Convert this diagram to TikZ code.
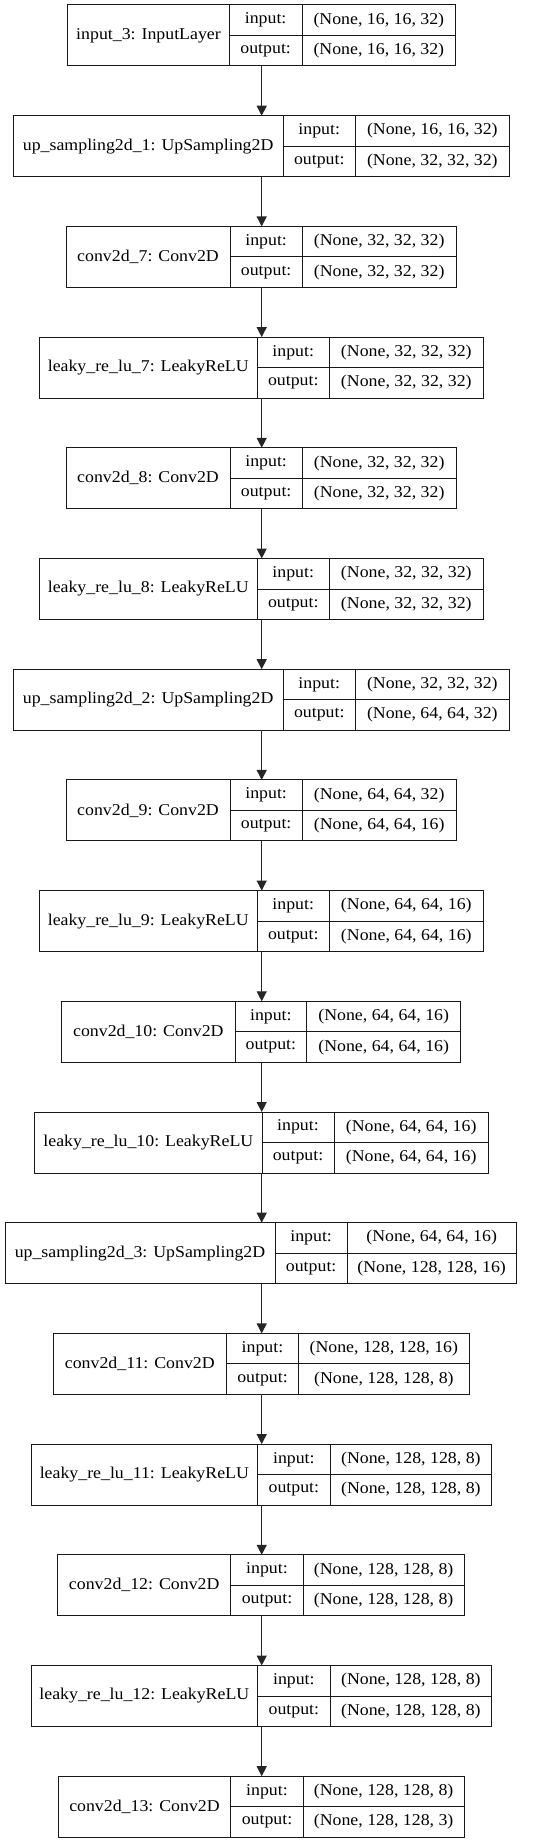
\documentclass[tikz,border=0pt]{standalone}
\usepackage{fontspec}
\setmainfont{Liberation Serif}[FakeStretch=1.08]
\usetikzlibrary{arrows.meta}
\tikzset{
  cell/.style={draw=black!90, line width=1pt, inner sep=0pt, outer sep=0pt, anchor=north west, font=\fontsize{16.5}{20}\selectfont},
  arr/.style={-{Triangle[length=10pt,width=10pt]}, line width=1.3pt, draw=black!85}
}
\newcommand\lay[9]{%
  \pgfmathsetmacro\wa{#4-#3}\pgfmathsetmacro\wb{#5-#4}\pgfmathsetmacro\wc{#6-#5}\pgfmathsetmacro\lmid{#2+30.5}%
  \node[cell, minimum width=\wa pt, minimum height=61pt] (#1) at (#3,#2) {#7};
  \node[cell, minimum width=\wb pt, minimum height=30.5pt] (#1i) at (#4,#2) {input:};
  \node[cell, minimum width=\wb pt, minimum height=30.5pt] (#1o) at (#4,\lmid) {output:};
  \node[cell, minimum width=\wc pt, minimum height=30.5pt] (#1iv) at (#5,#2) {#8};
  \node[cell, minimum width=\wc pt, minimum height=30.5pt] (#1ov) at (#5,\lmid) {#9};
}
\begin{document}
\begin{tikzpicture}[x=1pt,y=-1pt]
\useasboundingbox (0,0) rectangle (540,1844);
\lay{a}{5}{67.7}{229.3}{302}{455.7}{input\_3: InputLayer}{(None, 16, 16, 32)}{(None, 16, 16, 32)}
\lay{b}{115.7}{13.3}{283}{355.5}{509.2}{up\_sampling2d\_1: UpSampling2D}{(None, 16, 16, 32)}{(None, 32, 32, 32)}
\lay{c}{226.4}{66}{230}{302.3}{456}{conv2d\_7: Conv2D}{(None, 32, 32, 32)}{(None, 32, 32, 32)}
\lay{d}{337.1}{39.3}{257.2}{329.3}{483.3}{leaky\_re\_lu\_7: LeakyReLU}{(None, 32, 32, 32)}{(None, 32, 32, 32)}
\lay{e}{447.8}{66}{230}{302.3}{456}{conv2d\_8: Conv2D}{(None, 32, 32, 32)}{(None, 32, 32, 32)}
\lay{f}{558.5}{39.3}{257.2}{329.3}{483.3}{leaky\_re\_lu\_8: LeakyReLU}{(None, 32, 32, 32)}{(None, 32, 32, 32)}
\lay{g}{669.2}{13.3}{283}{355.5}{509.2}{up\_sampling2d\_2: UpSampling2D}{(None, 32, 32, 32)}{(None, 64, 64, 32)}
\lay{h}{779.9}{66}{230}{302.3}{456}{conv2d\_9: Conv2D}{(None, 64, 64, 32)}{(None, 64, 64, 16)}
\lay{k}{890.6}{39.3}{257.2}{329.3}{483.3}{leaky\_re\_lu\_9: LeakyReLU}{(None, 64, 64, 16)}{(None, 64, 64, 16)}
\lay{m}{1001.3}{61.7}{235}{306.7}{460.7}{conv2d\_10: Conv2D}{(None, 64, 64, 16)}{(None, 64, 64, 16)}
\lay{n}{1112}{34.7}{262}{334}{488.3}{leaky\_re\_lu\_10: LeakyReLU}{(None, 64, 64, 16)}{(None, 64, 64, 16)}
\lay{p}{1222.7}{5}{275}{347.3}{516}{up\_sampling2d\_3: UpSampling2D}{(None, 64, 64, 16)}{(None, 128, 128, 16)}
\lay{q}{1333.4}{53.3}{226.3}{298.7}{469}{conv2d\_11: Conv2D}{(None, 128, 128, 16)}{(None, 128, 128, 8)}
\lay{r}{1444.1}{31}{257.7}{330}{491.7}{leaky\_re\_lu\_11: LeakyReLU}{(None, 128, 128, 8)}{(None, 128, 128, 8)}
\lay{s}{1554.8}{57.7}{230.7}{303.3}{464}{conv2d\_12: Conv2D}{(None, 128, 128, 8)}{(None, 128, 128, 8)}
\lay{t}{1665.5}{31}{257.7}{330}{491.7}{leaky\_re\_lu\_12: LeakyReLU}{(None, 128, 128, 8)}{(None, 128, 128, 8)}
\lay{u}{1776.2}{58.3}{230.7}{303.3}{464}{conv2d\_13: Conv2D}{(None, 128, 128, 8)}{(None, 128, 128, 3)}
\coordinate (ax) at (261.7,0);
\foreach \x/\y in {a/b,b/c,c/d,d/e,e/f,f/g,g/h,h/k,k/m,m/n,n/p,p/q,q/r,r/s,s/t,t/u}
  \draw[arr] (\x.south -| ax) -- (\y.north -| ax);
\end{tikzpicture}
\end{document}
